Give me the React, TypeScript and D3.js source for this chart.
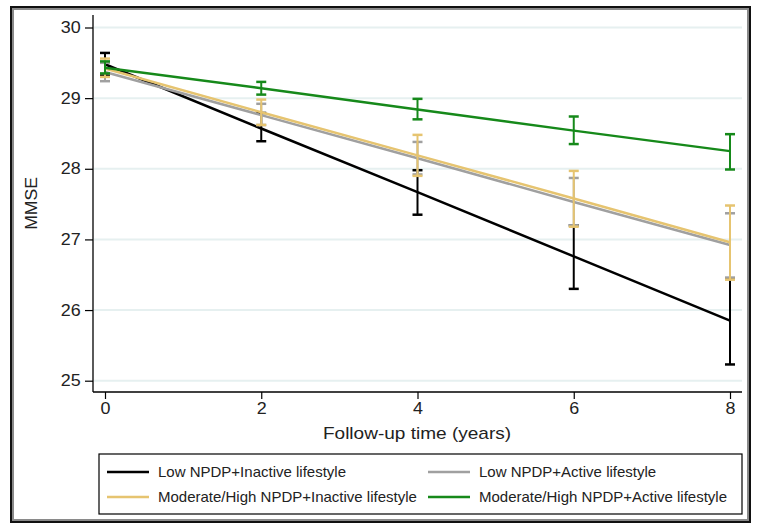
import { useEffect, useRef } from "react";
import * as d3 from "d3";

// follow-up years
const years = [0, 2, 4, 6, 8];
const yTicks = [25, 26, 27, 28, 29, 30];

const seriesNames = [
  "Low NPDP+Inactive lifestyle",
  "Low NPDP+Active lifestyle",
  "Moderate/High NPDP+Inactive lifestyle",
  "Moderate/High NPDP+Active lifestyle",
];
const seriesColors = ["#000000", "#a0a0a0", "#e6c470", "#16891a"];

// predicted MMSE and 95% CI per group
const lowInactiveMean = [29.48, 28.57, 27.67, 26.76, 25.85];
const lowInactiveLo = [29.32, 28.39, 27.35, 26.3, 25.23];
const lowInactiveHi = [29.64, 28.79, 27.98, 27.2, 26.45];

const lowActiveMean = [29.37, 28.76, 28.15, 27.53, 26.92];
const lowActiveLo = [29.24, 28.62, 27.92, 27.2, 26.46];
const lowActiveHi = [29.5, 28.92, 28.38, 27.87, 27.37];

const modInactiveMean = [29.42, 28.8, 28.19, 27.58, 26.96];
const modInactiveLo = [29.3, 28.62, 27.9, 27.18, 26.43];
const modInactiveHi = [29.56, 28.98, 28.48, 27.97, 27.48];

const modActiveMean = [29.43, 29.14, 28.84, 28.54, 28.25];
const modActiveLo = [29.35, 29.05, 28.7, 28.35, 27.99];
const modActiveHi = [29.52, 29.23, 28.99, 28.74, 28.49];

const means = [lowInactiveMean, lowActiveMean, modInactiveMean, modActiveMean];
const los = [lowInactiveLo, lowActiveLo, modInactiveLo, modActiveLo];
const his = [lowInactiveHi, lowActiveHi, modInactiveHi, modActiveHi];

const W = 762;
const H = 530;
const FONT = "'Liberation Sans', Arial, sans-serif";
const TEXT = "#222";

const App = () => {
  const ref = useRef<SVGSVGElement>(null);

  useEffect(() => {
    const svg = d3.select(ref.current);
    svg.selectAll("*").remove();

    // outer frame
    svg.append("rect").attr("x", 0).attr("y", 0).attr("width", W).attr("height", H).attr("fill", "#fff");
    svg.append("rect")
      .attr("x", 11).attr("y", 7).attr("width", 739).attr("height", 515)
      .attr("fill", "none").attr("stroke", "#111").attr("stroke-width", 2);
    svg.append("rect")
      .attr("x", 13).attr("y", 9).attr("width", 735).attr("height", 511)
      .attr("fill", "none").attr("stroke", "#8a8a8a").attr("stroke-width", 2);

    const plotLeft = 93, plotRight = 742, plotTop = 15, plotBottom = 392;

    const x = d3.scaleLinear().domain([0, 8]).range([105, 730]);
    const y = d3.scaleLinear().domain([25, 30]).range([380.7, 27.5]);

    // gridlines
    svg.append("g").selectAll("line").data(yTicks).join("line")
      .attr("x1", plotLeft + 1).attr("x2", plotRight)
      .attr("y1", (d) => y(d)).attr("y2", (d) => y(d))
      .attr("stroke", "#e6f0f0").attr("stroke-width", 2);

    // axes
    const yAxis = d3.axisLeft(y).tickValues(yTicks).tickSize(8).tickPadding(3).tickFormat(d3.format("d"));
    const yg = svg.append("g").attr("transform", `translate(${plotLeft},0)`).call(yAxis);
    yg.select(".domain").remove();
    yg.append("line").attr("x1", 0).attr("x2", 0).attr("y1", plotTop).attr("y2", plotBottom)
      .attr("stroke", "#000").attr("stroke-width", 1.3);

    const xAxis = d3.axisBottom(x).tickValues(years).tickSize(7).tickPadding(4).tickFormat(d3.format("d"));
    const xg = svg.append("g").attr("transform", `translate(0,${plotBottom})`).call(xAxis);
    xg.select(".domain").remove();
    xg.append("line").attr("x1", plotLeft).attr("x2", plotRight).attr("y1", 0).attr("y2", 0)
      .attr("stroke", "#000").attr("stroke-width", 1.3);

    [yg, xg].forEach((g) => {
      g.selectAll(".tick line").attr("stroke", "#000").attr("stroke-width", 1.2);
      g.selectAll(".tick text").attr("font-family", FONT).attr("font-size", 16).attr("fill", TEXT)
        .attr("transform", "scale(1.12,1)");
    });

    // axis titles
    svg.append("text")
      .attr("transform", `translate(37,${(plotTop + plotBottom) / 2}) rotate(-90) scale(1.1,1)`)
      .attr("text-anchor", "middle").attr("font-family", FONT).attr("font-size", 16).attr("fill", TEXT)
      .text("MMSE");
    svg.append("text")
      .attr("transform", "translate(417,439) scale(1.12,1)")
      .attr("text-anchor", "middle").attr("font-family", FONT).attr("font-size", 17).attr("fill", TEXT)
      .text("Follow-up time (years)");

    // series: error bars then lines
    const capHalf = 5;
    means.forEach((m, i) => {
      const color = seriesColors[i];
      const g = svg.append("g");
      const bars = years.map((yr, j) => ({ yr, lo: los[i][j], hi: his[i][j] }));
      g.selectAll("line.bar").data(bars).join("line").attr("class", "bar")
        .attr("x1", (d) => x(d.yr)).attr("x2", (d) => x(d.yr))
        .attr("y1", (d) => y(d.lo)).attr("y2", (d) => y(d.hi))
        .attr("stroke", color).attr("stroke-width", 2);
      g.selectAll("line.capLo").data(bars).join("line").attr("class", "capLo")
        .attr("x1", (d) => x(d.yr) - capHalf).attr("x2", (d) => x(d.yr) + capHalf)
        .attr("y1", (d) => y(d.lo)).attr("y2", (d) => y(d.lo))
        .attr("stroke", color).attr("stroke-width", 2.5);
      g.selectAll("line.capHi").data(bars).join("line").attr("class", "capHi")
        .attr("x1", (d) => x(d.yr) - capHalf).attr("x2", (d) => x(d.yr) + capHalf)
        .attr("y1", (d) => y(d.hi)).attr("y2", (d) => y(d.hi))
        .attr("stroke", color).attr("stroke-width", 2.5);

      const line = d3.line<number>().x((_, j) => x(years[j])).y((d) => y(d));
      g.append("path").datum(m).attr("d", line)
        .attr("fill", "none").attr("stroke", color).attr("stroke-width", 2.5);
    });

    // legend
    const lg = svg.append("g");
    lg.append("rect").attr("x", 99).attr("y", 454).attr("width", 643).attr("height", 60)
      .attr("fill", "#fff").attr("stroke", "#000").attr("stroke-width", 1.2);
    const legendPos = [
      { lx: 107, ty: 472 },
      { lx: 428, ty: 472 },
      { lx: 107, ty: 497 },
      { lx: 428, ty: 497 },
    ];
    seriesNames.forEach((name, i) => {
      const p = legendPos[i];
      lg.append("line").attr("x1", p.lx).attr("x2", p.lx + 42).attr("y1", p.ty).attr("y2", p.ty)
        .attr("stroke", seriesColors[i]).attr("stroke-width", 2.5);
      lg.append("text")
        .attr("x", p.lx + 51).attr("y", p.ty + 5)
        .attr("font-family", FONT).attr("font-size", 15).attr("fill", TEXT)
        .text(name);
    });
  }, []);

  return (
    <svg ref={ref} width={W} height={H} style={{ position: "absolute", left: 0, top: 0 }} />
  );
};

export default App;
